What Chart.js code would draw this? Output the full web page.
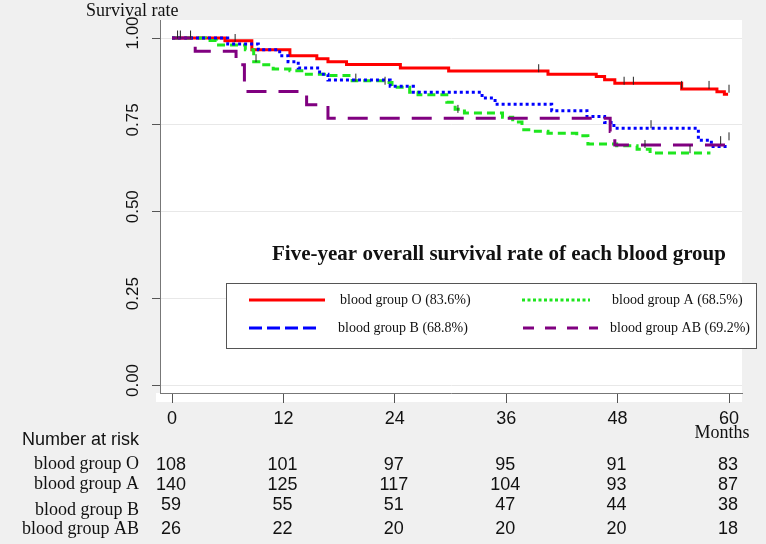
<!DOCTYPE html>
<html>
<head>
<meta charset="utf-8">
<script src="https://cdn.jsdelivr.net/npm/chart.js@4.4.1/dist/chart.umd.min.js"></script>
<style>
  html, body { margin: 0; padding: 0; background: #f0f0f0; }
  #wrap { width: 766px; height: 544px; }
</style>
</head>
<body>
<div id="wrap"><canvas id="kmCanvas" width="766" height="544"></canvas></div>
<script>
// groups and labels
const groupNames = ["blood group O", "blood group A", "blood group B", "blood group AB"];
const legendLabels = ["blood group O (83.6%)", "blood group A (68.5%)", "blood group B (68.8%)", "blood group AB (69.2%)"];

// survival steps (month, rate)
const monthsO = [0, 5.7, 8.6, 12.7, 15.6, 16.8, 18.8, 24.6, 29.8, 40.5, 45.7, 46.6, 47.7, 54.9, 58.7, 59.5, 59.9];
const survO   = [1.0, 0.992, 0.966, 0.949, 0.940, 0.932, 0.924, 0.914, 0.905, 0.896, 0.889, 0.880, 0.870, 0.853, 0.845, 0.838, 0.838];

const monthsA = [0, 3.6, 4.8, 7.9, 8.8, 9.6, 10.9, 12.7, 14.3, 16.7, 19.4, 22.9, 23.7, 25.6, 26.5, 29.6, 30.5, 31.5, 35.6, 36.7, 37.7, 38.9, 40.5, 43.6, 44.8, 47.9, 50.1, 51.5, 58.0];
const survA   = [1.0, 0.993, 0.980, 0.966, 0.932, 0.923, 0.911, 0.906, 0.896, 0.892, 0.877, 0.872, 0.858, 0.844, 0.837, 0.815, 0.795, 0.784, 0.772, 0.758, 0.736, 0.732, 0.726, 0.719, 0.695, 0.690, 0.680, 0.669, 0.669];

const monthsB = [0, 6.0, 9.3, 11.6, 12.5, 13.6, 15.9, 16.8, 23.5, 26.0, 33.4, 34.8, 40.9, 44.7, 46.6, 47.6, 56.7, 58.1, 60.0];
const survB   = [1.0, 0.983, 0.966, 0.949, 0.932, 0.914, 0.896, 0.879, 0.861, 0.844, 0.827, 0.809, 0.791, 0.774, 0.757, 0.740, 0.706, 0.688, 0.688];

const monthsAB = [0, 2.5, 6.9, 7.8, 14.5, 16.8, 47.2, 47.7, 59.8];
const survAB   = [1.0, 0.962, 0.923, 0.846, 0.808, 0.769, 0.731, 0.692, 0.692];

// censor marks (month, rate at mark centre)
const censorMonths = [0.6, 0.9, 2.0, 6.8, 9.05, 19.8, 22.95, 30.8, 39.5, 48.7, 49.7, 54.9, 57.85, 60.0, 51.6, 50.95, 55.8, 59.1, 60.0];
const censorRates  = [1.01, 1.01, 1.01, 1.0, 0.942, 0.886, 0.877, 0.796, 0.913, 0.877, 0.877, 0.865, 0.865, 0.854, 0.752, 0.695, 0.680, 0.706, 0.717];

// axes
const tickMonths = [0, 12, 24, 36, 48, 60];
const rateTicks = [0, 0.25, 0.5, 0.75, 1.0];

// number at risk
const riskO  = [108, 101, 97, 95, 91, 83];
const riskA  = [140, 125, 117, 104, 93, 87];
const riskB  = [59, 55, 51, 47, 44, 38];
const riskAB = [26, 22, 20, 20, 20, 18];

const pts = (xs, ys) => xs.map((x, i) => ({ x: x, y: ys[i] }));

const serif = "'Liberation Serif', 'Times New Roman', serif";
const sans = "'Liberation Sans', Arial, sans-serif";

const paintBack = {
  id: "paintBack",
  beforeDraw(chart) {
    const ctx = chart.ctx;
    const a = chart.chartArea;
    ctx.save();
    ctx.fillStyle = "#f0f0f0";
    ctx.fillRect(0, 0, chart.width, chart.height);
    ctx.fillStyle = "#ffffff";
    ctx.fillRect(a.left, a.top, a.right - a.left, a.bottom - a.top);
    ctx.fillRect(a.left - 4, a.bottom, a.right - a.left + 4, 9);
    ctx.restore();
  }
};

const extras = {
  id: "extras",
  afterDraw(chart) {
    const ctx = chart.ctx;
    const xs = chart.scales.x;
    ctx.save();
    ctx.fillStyle = "#111";

    // y title
    ctx.font = "18px " + serif;
    ctx.textAlign = "left";
    ctx.textBaseline = "alphabetic";
    ctx.fillText("Survival rate", 86, 16);

    // inner title
    ctx.font = "bold 21px " + serif;
    ctx.textAlign = "center";
    ctx.fillText("Five-year overall survival rate of each blood group", 499, 260);

    // legend box
    ctx.fillStyle = "#ffffff";
    ctx.fillRect(226, 283, 530, 65);
    ctx.strokeStyle = "#555";
    ctx.lineWidth = 1;
    ctx.strokeRect(226.5, 283.5, 530, 65);

    const samples = [
      { x0: 249, x1: 325, y: 300, color: "#ff0000", dash: [], tx: 340, label: legendLabels[0] },
      { x0: 522, x1: 590, y: 300, color: "#1ee61e", dash: [3, 2.5], tx: 612, label: legendLabels[1] },
      { x0: 249, x1: 318, y: 328, color: "#0000ff", dash: [13, 5], tx: 338, label: legendLabels[2] },
      { x0: 523, x1: 598, y: 328, color: "#800080", dash: [11, 11], tx: 610, label: legendLabels[3] }
    ];
    samples.forEach(s => {
      ctx.beginPath();
      ctx.setLineDash(s.dash);
      ctx.strokeStyle = s.color;
      ctx.lineWidth = 3;
      ctx.moveTo(s.x0, s.y);
      ctx.lineTo(s.x1, s.y);
      ctx.stroke();
      ctx.setLineDash([]);
      ctx.fillStyle = "#111";
      ctx.font = "14px " + serif;
      ctx.textAlign = "left";
      ctx.textBaseline = "middle";
      ctx.fillText(s.label, s.tx, s.y);
    });

    // months label
    ctx.textBaseline = "alphabetic";
    ctx.font = "18px " + serif;
    ctx.textAlign = "center";
    ctx.fillText("Months", 722, 438);

    // number at risk table
    ctx.font = "18px " + sans;
    ctx.textAlign = "left";
    ctx.fillText("Number at risk", 22, 445);

    const rows = [
      { name: groupNames[0], vals: riskO, yl: 469, yn: 470 },
      { name: groupNames[1], vals: riskA, yl: 489, yn: 490 },
      { name: groupNames[2], vals: riskB, yl: 515, yn: 510 },
      { name: groupNames[3], vals: riskAB, yl: 534, yn: 534 }
    ];
    rows.forEach(r => {
      ctx.font = "18px " + serif;
      ctx.textAlign = "right";
      ctx.fillText(r.name, 139, r.yl);
      ctx.font = "18px " + sans;
      ctx.textAlign = "center";
      r.vals.forEach((v, i) => {
        ctx.fillText(String(v), xs.getPixelForValue(tickMonths[i]) - 1, r.yn);
      });
    });
    ctx.restore();
  }
};

const lineStyle = (label, data, color, dash) => ({
  label: label,
  data: data,
  borderColor: color,
  backgroundColor: color,
  borderWidth: 3,
  borderDash: dash,
  borderCapStyle: "butt",
  stepped: true,
  pointRadius: 0,
  fill: false,
  tension: 0
});

new Chart(document.getElementById("kmCanvas"), {
  type: "line",
  data: {
    datasets: [
      {
        type: "scatter",
        label: "censored",
        data: pts(censorMonths, censorRates),
        pointStyle: "line",
        rotation: 90,
        pointRadius: 4,
        borderColor: "#222",
        borderWidth: 1,
        showLine: false
      },
      lineStyle(groupNames[3], pts(monthsAB, survAB), "#800080", [20, 12]),
      lineStyle(groupNames[2], pts(monthsB, survB), "#0000ff", [3, 3]),
      lineStyle(groupNames[1], pts(monthsA, survA), "#1ee61e", [8, 5]),
      lineStyle(groupNames[0], pts(monthsO, survO), "#ff0000", [])
    ]
  },
  options: {
    responsive: false,
    animation: false,
    layout: { padding: { left: 0, right: 24, top: 20, bottom: 0 } },
    plugins: { legend: { display: false }, tooltip: { enabled: false } },
    scales: {
      x: {
        type: "linear",
        min: -1.293,
        max: 61.4,
        afterBuildTicks: s => { s.ticks = tickMonths.map(v => ({ value: v })); },
        afterFit: s => { s.height = 151; },
        grid: { drawOnChartArea: false, drawTicks: true, tickLength: 10, tickColor: "#555" },
        border: { display: true, color: "#777", width: 1 },
        ticks: { font: { family: sans, size: 18 }, color: "#111", padding: 5, maxRotation: 0 }
      },
      y: {
        type: "linear",
        min: -0.0216,
        max: 1.0518,
        afterBuildTicks: s => { s.ticks = rateTicks.map(v => ({ value: v })); },
        afterFit: s => { s.width = 160; },
        grid: { color: "#e8e8e8", drawTicks: true, tickLength: 8, tickColor: "#555" },
        border: { display: true, color: "#777", width: 1 },
        ticks: {
          font: { family: "'Liberation Sans Narrow', 'Liberation Sans', sans-serif", size: 17 },
          color: "#111",
          minRotation: 90,
          maxRotation: 90,
          crossAlign: "center",
          padding: 2,
          labelOffset: -5,
          callback: v => v.toFixed(2)
        }
      }
    }
  },
  plugins: [paintBack, extras]
});
</script>
</body>
</html>
